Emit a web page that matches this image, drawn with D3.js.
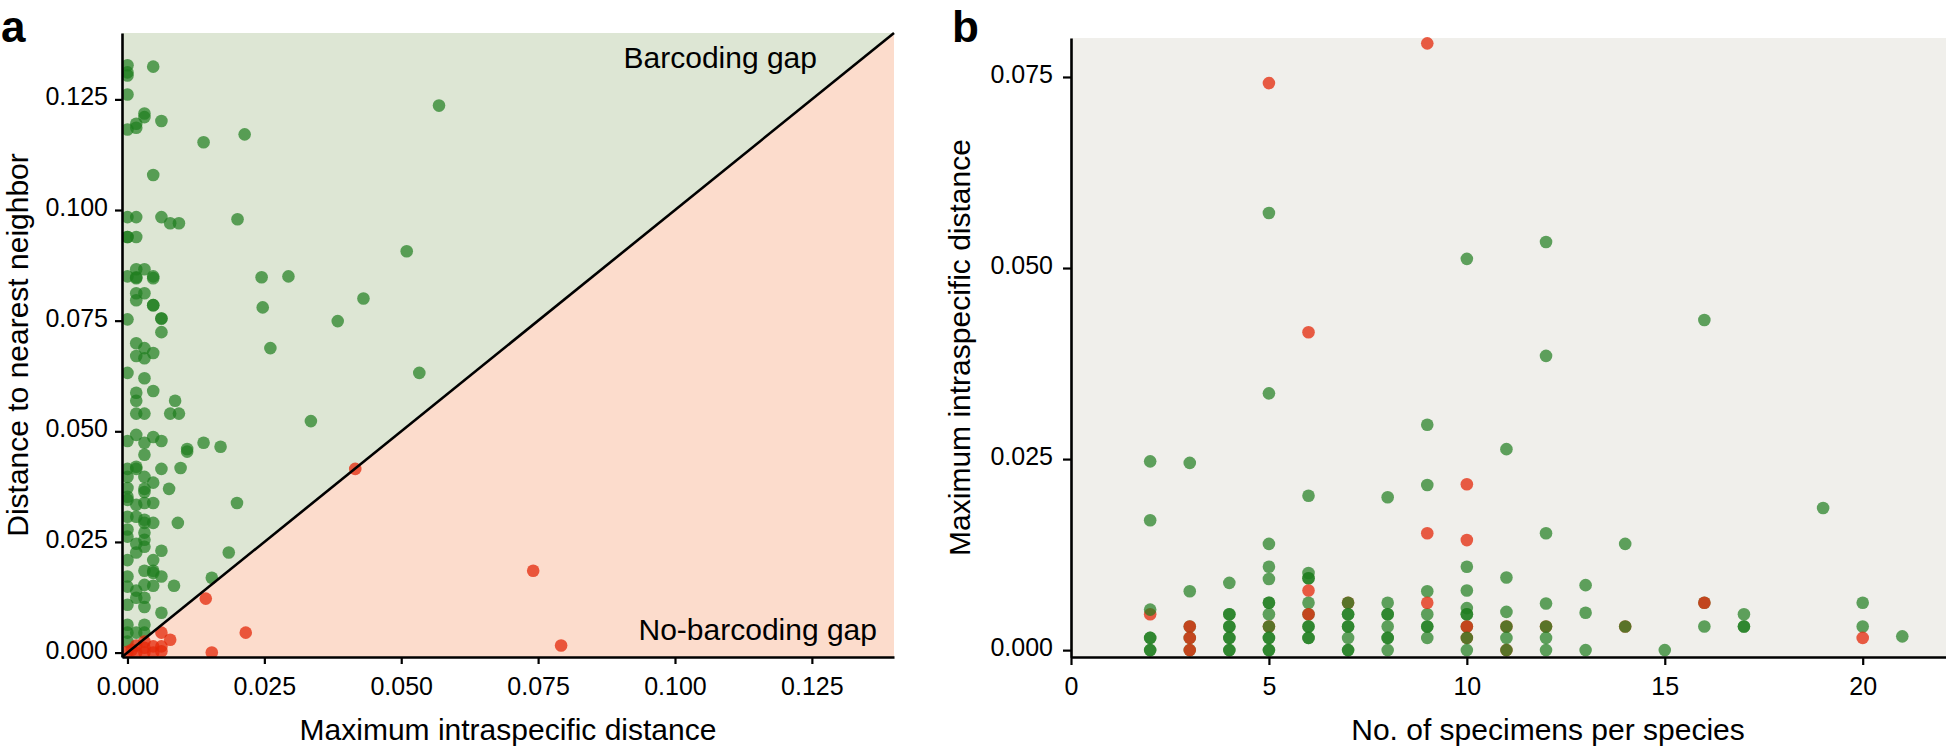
<!DOCTYPE html>
<html><head><meta charset="utf-8">
<script src="https://cdn.jsdelivr.net/npm/d3@7"></script>
<style>
body{margin:0;background:#fff}
text{font-family:"Liberation Sans",Arial,Helvetica,sans-serif;fill:#000}
</style>
</head><body>
<svg id="chart" width="1946" height="747"></svg>
<script>
// ---------- Panel a data ----------
const ticksA = [0, 0.025, 0.05, 0.075, 0.1, 0.125];
// species with a barcoding gap (green)
const gapX = [0,0,0,0.0047,0,0.0569,0.0031,0.0031,0.0016,0.0016,0,0.0062,0.0214,0.0139,0.0047,
  0,0.0016,0.0062,0.0078,0.0094,0.0201,0,0,0.0016,0.0510,0,0.0016,0.0016,0.0016,0.0031,0.0047,0.0047,
  0.0245,0.0294,0.0016,0.0031,0.0016,0.0047,0.0047,0.0431,0.0247,0.0062,0.0062,0,0.0384,0.0062,
  0.0016,0.0031,0.0016,0.0031,0.0047,0.0261,0.0533,0,0.0031,0.0047,0.0016,0.0016,0.0087,0.0016,
  0.0031,0.0078,0.0094,0.0335,0.0016,0,0.0031,0.0047,0.0062,0.0139,0.0170,0.0109,0.0109,0.0031,
  0,0.0016,0.0016,0.0062,0.0097,0,0.0031,0.0047,0,0.0031,0.0031,0.0076,0,0,0.0016,0.0031,0.0047,
  0.0200,0,0.0016,0.0031,0.0031,0.0047,0.0092,0,0,0.0031,0.0031,0.0016,0.0016,0.0031,0.0062,
  0.0185,0,0.0047,0.0031,0.0047,0.0047,0,0.0062,0.0154,0,0.0031,0.0047,0.0085,0.0016,0.0016,
  0.0031,0,0.0031,0.0062,0,0.0031,0.0016,0,0.0031,0];
const gapY = [0.1327,0.1311,0.1304,0.1324,0.1261,0.1236,0.1218,0.1210,0.1195,0.1186,0.1182,0.1201,0.1171,0.1153,0.1079,
  0.0984,0.0984,0.0984,0.0970,0.0970,0.0979,0.0939,0.0939,0.0939,0.0907,0.0850,0.0866,0.0848,0.0846,0.0866,0.0850,0.0846,
  0.0848,0.0850,0.0812,0.0812,0.0796,0.0785,0.0785,0.0800,0.0780,0.0755,0.0755,0.0753,0.0749,0.0724,
  0.0699,0.0688,0.0670,0.0665,0.0677,0.0688,0.0632,0.0632,0.0620,0.0591,0.0587,0.0569,0.0569,0.0540,
  0.0540,0.0540,0.0540,0.0523,0.0492,0.0478,0.0474,0.0487,0.0478,0.0474,0.0465,0.0460,0.0454,0.0447,
  0.0415,0.0420,0.0415,0.0415,0.0417,0.0397,0.0397,0.0384,0.0372,0.0370,0.0363,0.0370,0.0352,0.0345,0.0334,0.0338,0.0338,
  0.0338,0.0307,0.0307,0.0300,0.0293,0.0293,0.0293,0.0278,0.0262,0.0271,0.0255,0.0246,0.0226,0.0239,0.0230,
  0.0226,0.0209,0.0209,0.0185,0.0185,0.0180,0.0172,0.0172,0.0169,0.0149,0.0153,0.0151,0.0151,0.0140,0.0124,
  0.0124,0.0108,0.0103,0.0090,0.0063,0.0063,0.0045,0.0045,0.0045,0.0025];
// species without a barcoding gap (red)
const noGapX = [0.0416,0.0143,0.0062,0.0078,0.0216,0.0154,0.0741,0.0792,0,0.0016,0.0031,0.0047,0.0062,0.0016,0.0031,0.0047,0.0031,0.0062,0.0008];
const noGapY = [0.0415,0.0122,0.0045,0.0029,0.0045,0.0000,0.0185,0.0016,0.0002,0.0016,0.0011,0.0014,0.0014,0,0,0,0.0025,0.0003,0.0006];

// ---------- Panel b data (drawing order kept) ----------
const ticksBx = [0, 5, 10, 15, 20];
const ticksBy = [0, 0.025, 0.05, 0.075];
const bSpecimens = [2,2,2,2,2,2,2,2,
  3,3,3,3,3,3,3,3,
  4,4,4,4,4,4,4,4,4,
  5,5,5,5,5,5,5,5,5,5,5,5,5,5,5,
  6,6,6,6,6,6,6,6,6,6,6,6,6,
  7,7,7,7,7,7,7,7,7,
  8,8,8,8,8,8,8,8,
  9,9,9,9,9,9,9,9,9,9,
  10,10,10,10,10,10,10,10,10,10,10,10,10,
  11,11,11,11,11,11,11,11,
  12,12,12,12,12,12,12,12,
  13,13,13,
  14,14,14,
  15,
  16,16,16,16,
  17,17,17,
  19,
  20,20,20,
  21];
const bMaxDist = [0.0247,0.0170,0.0047,0.0053,0.0016,0.0016,0,0,
  0.0245,0.0077,0.0031,0.0031,0.0016,0.0016,0,0,
  0.0088,0.0047,0.0047,0.0031,0.0031,0.0016,0.0016,0,0,
  0.0572,0.0336,0.0139,0.0109,0.0093,0.0062,0.0062,0.0047,0.0031,0.0031,0.0016,0.0016,0,0,0.0742,
  0.0202,0.0101,0.0094,0.0094,0.0078,0.0062,0.0047,0.0047,0.0031,0.0031,0.0016,0.0016,0.0416,
  0.0062,0.0062,0.0047,0.0047,0.0031,0.0031,0.0016,0,0,
  0.0200,0.0062,0.0047,0.0047,0.0031,0.0016,0.0016,0,
  0.0295,0.0216,0.0077,0.0047,0.0031,0.0031,0.0016,0.0153,0.0062,0.0794,
  0.0512,0.0109,0.0078,0.0055,0.0047,0.0047,0.0031,0.0031,0.0016,0.0016,0,0.0217,0.0144,
  0.0263,0.0095,0.0050,0.0031,0.0031,0.0016,0,0,
  0.0534,0.0385,0.0153,0.0061,0.0031,0.0031,0.0016,0,
  0.0085,0.0049,0,
  0.0139,0.0031,0.0031,
  0,
  0.0432,0.0062,0.0062,0.0031,
  0.0047,0.0031,0.0031,
  0.0186,
  0.0062,0.0031,0.0016,
  0.0018];
// 1 = barcoding gap (green), 0 = no barcoding gap (red)
const bGap = [1,1,0,1,1,1,1,1,
  1,1,1,0,1,0,1,0,
  1,1,1,1,1,1,1,1,1,
  1,1,1,1,1,1,1,1,0,1,1,1,1,1,0,
  1,1,1,1,0,1,1,0,1,1,1,1,0,
  0,1,1,1,1,1,1,1,1,
  1,1,1,1,1,1,1,1,
  1,1,1,1,1,1,1,0,0,0,
  1,1,1,1,1,1,1,0,0,1,1,0,0,
  1,1,1,0,1,1,0,1,
  1,1,1,1,0,1,1,1,
  1,1,1,
  1,0,1,
  1,
  1,1,0,1,
  1,1,1,
  1,
  1,1,0,
  1];

// ---------- styles ----------
const GREEN = "#1e7d1e", RED = "#e4280a";
const FONT_TICK = 25, FONT_TITLE = 30;

const svg = d3.select("#chart");

// ===== Panel a =====
const ax = d3.scaleLinear().domain([-0.001, 0.14]).range([122, 894]);
const ay = d3.scaleLinear().domain([-0.001, 0.14]).range([657, 33]);
const [axMin, axMax] = ax.domain(), [ayMin, ayMax] = ay.domain();

const defs = svg.append("defs");
defs.append("clipPath").attr("id", "clipA").append("rect")
  .attr("x", ax(axMin)).attr("y", ay(ayMax))
  .attr("width", ax(axMax) - ax(axMin)).attr("height", ay(ayMin) - ay(ayMax));

const gA = svg.append("g");
const line = d3.line().x(d => ax(d[0])).y(d => ay(d[1]));
gA.append("path").attr("d", line([[axMin, ayMin], [axMin, ayMax], [axMax, ayMax]]) + "Z").attr("fill", "#dde6d4");
gA.append("path").attr("d", line([[axMin, ayMin], [axMax, ayMin], [axMax, ayMax]]) + "Z").attr("fill", "#fcdccc");

const ptsA = gA.append("g").attr("clip-path", "url(#clipA)");
ptsA.selectAll("circle.g").data(d3.range(gapX.length)).join("circle")
  .attr("cx", i => ax(gapX[i])).attr("cy", i => ay(gapY[i])).attr("r", 6.3)
  .attr("fill", GREEN).attr("fill-opacity", 0.7);
ptsA.selectAll("circle.r").data(d3.range(noGapX.length)).join("circle")
  .attr("cx", i => ax(noGapX[i])).attr("cy", i => ay(noGapY[i])).attr("r", 6.3)
  .attr("fill", RED).attr("fill-opacity", 0.75);

gA.append("path").attr("d", line([[Math.max(axMin, ayMin), Math.max(axMin, ayMin)], [Math.min(axMax, ayMax), Math.min(axMax, ayMax)]]))
  .attr("stroke", "#000").attr("stroke-width", 2.6).attr("fill", "none");

function styleAxis(g) {
  g.select(".domain").attr("stroke", "#000").attr("stroke-width", 2.6);
  g.selectAll(".tick line").attr("stroke", "#000").attr("stroke-width", 2.2);
  g.selectAll(".tick text").attr("font-size", FONT_TICK).attr("fill", "#000")
    .style("font-family", '"Liberation Sans", Arial, sans-serif');
}
const fmt3 = d3.format(".3f");
gA.append("g").attr("transform", `translate(0,${ay(ayMin)})`)
  .call(d3.axisBottom(ax).tickValues(ticksA).tickFormat(fmt3).tickSize(7).tickSizeOuter(0).tickPadding(13))
  .call(styleAxis).attr("font-family", null).attr("font-size", null);
gA.append("g").attr("transform", `translate(${ax(axMin)},0)`)
  .call(d3.axisLeft(ay).tickValues(ticksA).tickFormat(fmt3).tickSize(7).tickSizeOuter(0).tickPadding(7))
  .call(styleAxis).attr("font-family", null).attr("font-size", null)
  .selectAll(".tick text").attr("dy", "0.22em");

gA.append("text").attr("x", 817).attr("y", 68).attr("text-anchor", "end")
  .attr("font-size", FONT_TITLE).text("Barcoding gap");
gA.append("text").attr("x", 877).attr("y", 640).attr("text-anchor", "end")
  .attr("font-size", FONT_TITLE).text("No-barcoding gap");
gA.append("text").attr("x", (ax(axMin) + ax(axMax)) / 2).attr("y", 740).attr("text-anchor", "middle")
  .attr("font-size", FONT_TITLE).text("Maximum intraspecific distance");
gA.append("text").attr("transform", `translate(28,${(ay(ayMin) + ay(ayMax)) / 2}) rotate(-90)`)
  .attr("text-anchor", "middle").attr("font-size", FONT_TITLE).text("Distance to nearest neighbor");
svg.append("text").attr("x", 1).attr("y", 42).attr("font-size", 44).attr("font-weight", "bold").text("a");

// ===== Panel b =====
const bx = d3.scaleLinear().domain([0, 24.1]).range([1071, 2025]);
const by = d3.scaleLinear().domain([-0.0009, 0.0801]).range([657, 38]);
const gB = svg.append("g");
gB.append("rect").attr("x", bx(0)).attr("y", by(0.0801))
  .attr("width", bx(24.1) - bx(0)).attr("height", by(-0.0009) - by(0.0801)).attr("fill", "#f0efeb");
gB.append("g").selectAll("circle").data(d3.range(bSpecimens.length)).join("circle")
  .attr("cx", i => bx(bSpecimens[i])).attr("cy", i => by(bMaxDist[i])).attr("r", 6.3)
  .attr("fill", i => bGap[i] ? GREEN : RED).attr("fill-opacity", i => bGap[i] ? 0.7 : 0.75);

gB.append("g").attr("transform", `translate(0,${by(-0.0009)})`)
  .call(d3.axisBottom(bx).tickValues(ticksBx).tickFormat(d3.format("d")).tickSize(8).tickSizeOuter(0).tickPadding(12))
  .call(styleAxis).attr("font-family", null).attr("font-size", null);
gB.append("g").attr("transform", `translate(${bx(0)},0)`)
  .call(d3.axisLeft(by).tickValues(ticksBy).tickFormat(fmt3).tickSize(8).tickSizeOuter(0).tickPadding(10))
  .call(styleAxis).attr("font-family", null).attr("font-size", null)
  .selectAll(".tick text").attr("dy", "0.22em");

gB.append("text").attr("x", (bx(0) + bx(24.1)) / 2).attr("y", 740).attr("text-anchor", "middle")
  .attr("font-size", FONT_TITLE).text("No. of specimens per species");
gB.append("text").attr("transform", `translate(970,${(by(-0.0009) + by(0.0801)) / 2}) rotate(-90)`)
  .attr("text-anchor", "middle").attr("font-size", FONT_TITLE).text("Maximum intraspecific distance");
svg.append("text").attr("x", 952).attr("y", 42).attr("font-size", 44).attr("font-weight", "bold").text("b");
</script>
</body></html>
